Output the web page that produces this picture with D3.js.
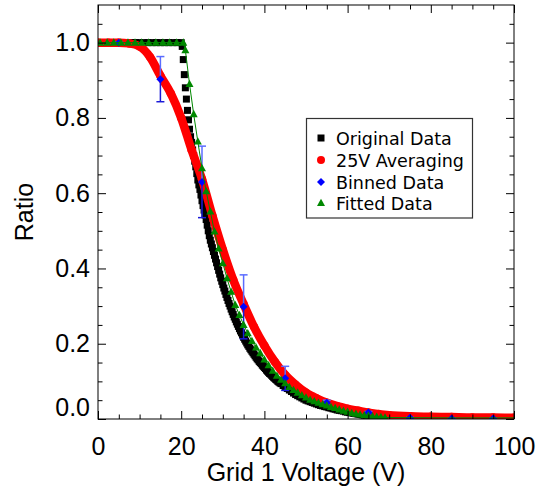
<!DOCTYPE html>
<html><head><meta charset="utf-8">
<script src="https://cdn.jsdelivr.net/npm/d3@7"></script>
<style>body{margin:0;background:#fff} svg{display:block}</style>
</head><body><svg id="c" width="538" height="491"></svg>
<script>
// ---- data ----
const xTicks = [0, 20, 40, 60, 80, 100];
const xMinor = [5, 10, 15, 25, 30, 35, 45, 50, 55, 65, 70, 75, 85, 90, 95];
const yTicks = [0, 0.2, 0.4, 0.6, 0.8, 1.0];
const yMinor = [0.05, 0.1, 0.15, 0.25, 0.3, 0.35, 0.45, 0.5, 0.55, 0.65, 0.7, 0.75, 0.85, 0.9, 0.95, 1.05];

const seriesNames = ["Original Data", "25V Averaging", "Binned Data", "Fitted Data"];

// Original Data (black squares)
const origV = [0,1,2,3,4,5,6,7,8,9,10,11,12,13,14,15,16,17,18,19,20,
  20.25,20.5,20.75,21,21.25,21.5,21.75,22,22.25,22.5,22.75,23,23.25,23.5,23.75,
  24,24.25,24.5,24.75,25,25.25,25.5,25.75,26,26.25,26.5,26.75,27,27.25,27.5,27.75,
  28,28.25,28.5,28.75,29,29.25,29.5,29.75,30,30.25,30.5,30.75,31,31.25,31.5,31.75,
  32,32.25,32.5,32.75,33,33.25,33.5,33.75,34,34.25,34.5,34.75,35,35.25,35.5,35.75,
  36,36.25,36.5,36.75,37,37.25,37.5,37.75,38,38.25,38.5,38.75,39,39.25,39.5,39.75,
  40,40.25,40.5,40.75,41,41.25,41.5,41.75,42,42.25,42.5,42.75,43,43.25,43.5,43.75,
  44,44.5,45,45.5,46,46.5,47,47.5,48,48.5,49,49.5,50,50.5,51,51.5,52,52.5,53,53.5,
  54,54.5,55,55.5,56,56.5,57,57.5,58,58.5,59,59.5,60,60.5,61,61.5,62,62.5,63,63.5,
  64,64.5,65,65.5,66,66.5,67,67.5,68];
const origR = [1,1,1,1,1,1,1,1,1,1,1,1,1,1,1,1,1,1,1,1,1,
  0.99,0.955,0.915,0.88,0.85,0.82,0.795,0.77,0.75,0.735,0.715,0.70,0.685,0.67,0.652,
  0.635,0.622,0.61,0.595,0.58,0.567,0.555,0.542,0.53,0.515,0.50,0.487,0.475,0.465,0.455,0.445,
  0.435,0.425,0.415,0.405,0.395,0.385,0.375,0.366,0.357,0.348,0.34,0.331,0.323,0.315,0.307,0.30,
  0.292,0.285,0.278,0.271,0.265,0.258,0.252,0.246,0.24,0.234,0.229,0.223,0.217,0.212,0.207,0.202,
  0.197,0.193,0.188,0.184,0.18,0.176,0.172,0.168,0.164,0.16,0.157,0.153,0.15,0.147,0.143,0.14,
  0.137,0.134,0.13,0.127,0.124,0.121,0.119,0.116,0.113,0.11,0.108,0.105,0.103,0.10,0.098,0.096,
  0.094,0.089,0.085,0.081,0.077,0.073,0.069,0.065,0.062,0.059,0.056,0.053,0.05,0.048,0.046,0.044,0.042,0.040,0.038,0.036,
  0.035,0.033,0.032,0.030,0.029,0.027,0.026,0.024,0.023,0.022,0.021,0.019,0.018,0.017,0.016,0.015,0.014,0.013,0.012,0.011,
  0.010,0.009,0.008,0.0075,0.007,0.006,0.005,0.0045,0.004];

// 25V Averaging (red)
const avgV = [0,2.5,5,7.5,10,12.5,15,17.5,20,22.5,25,27.5,30,32.5,35,37.5,40,42.5,45,47.5,50,52.5,55,57.5,60,62.5,65,67.5,70,75,80,85,90,95,100];
const avgR = [1.0,1.0,1.0,0.998,0.99,0.962,0.912,0.865,0.8,0.715,0.637,0.54,0.45,0.37,0.305,0.245,0.195,0.152,0.117,0.091,0.07,0.055,0.043,0.034,0.027,0.022,0.017,0.013,0.01,0.007,0.006,0.005,0.004,0.004,0.003];

// Binned Data (blue diamonds with error bars)
const binV = [5,15,25,35,45,55,65,75,85,95];
const binR = [1.0,0.903,0.63,0.298,0.108,0.043,0.017,0.003,0.001,0.001];
const binErr = [0.002,0.06,0.095,0.085,0.032,0.007,0.003,0.001,0.001,0.001];

// Fitted Data (green triangles)
const fitV = [0.5,2.2,3.8,5.5,7.2,8.9,10.5,12.2,13.9,15.6,17.2,18.9,20.5,
  21,22,23,24,25,26,27,28,29,30,31,32,33,34,35,36,37,38,39,40,41,42,43,44,45,46,47,48,49,50,
  51,52,53,54,55,56,57,58,59,60,61,62,63,64,65,66,67,68,69];
const fitR = [1,1,1,1,1,1,1,1,1,1,1,1,1,
  0.98,0.89,0.81,0.737,0.666,0.605,0.551,0.498,0.453,0.414,0.374,0.338,0.303,0.276,0.25,0.228,0.207,0.19,0.175,0.158,0.143,0.128,0.115,0.104,0.095,0.085,0.077,0.07,0.063,0.057,
  0.051,0.047,0.043,0.039,0.036,0.032,0.029,0.025,0.022,0.019,0.016,0.014,0.012,0.010,0.009,0.007,0.006,0.005,0.004];
const fitTailV = [69, 75, 85, 95, 100];
const fitTailR = [0.004, 0.0035, 0.003, 0.003, 0.003];

// ---- chart ----
const svg = d3.select("#c");
const L = 98, R = 514, T = 5, B = 419;
const x = d3.scaleLinear().domain([0, 100]).range([L, R]);
const y = d3.scaleLinear().domain([0, 1.1]).range([B, T]);
const FONT = "'Liberation Sans', Arial, Helvetica, sans-serif";

svg.append("defs").append("clipPath").attr("id", "plotclip")
  .append("rect").attr("x", L).attr("y", T).attr("width", R - L).attr("height", B - T);

const plot = svg.append("g").attr("clip-path", "url(#plotclip)");

// Original Data
plot.append("g").selectAll("rect").data(origV).join("rect")
  .attr("x", (d, i) => x(d) - 3.5).attr("y", (d, i) => y(origR[i]) - 3.5)
  .attr("width", 7).attr("height", 7).attr("fill", "#000");

// 25V Averaging
const avgPts = avgV.map((v, i) => [v, avgR[i]]);
plot.append("path").datum(avgPts)
  .attr("d", d3.line().x(d => x(d[0])).y(d => y(d[1])).curve(d3.curveMonotoneX))
  .attr("fill", "none").attr("stroke", "#ff0000").attr("stroke-width", 8.5)
  .attr("stroke-linecap", "round").attr("stroke-linejoin", "round");
plot.append("g").selectAll("circle").data(avgPts).join("circle")
  .attr("cx", d => x(d[0])).attr("cy", d => y(d[1])).attr("r", 4.25).attr("fill", "#ff0000");

// Binned Data error bars
const eb = plot.append("g");
binV.forEach((v, i) => {
  const cx = x(v), yt = y(binR[i] + binErr[i]), yb = y(binR[i] - binErr[i]), yc = y(binR[i]);
  eb.append("line").attr("x1", cx).attr("x2", cx).attr("y1", yt).attr("y2", yc).attr("stroke", "#5a6cff").attr("stroke-width", 1.5);
  eb.append("line").attr("x1", cx).attr("x2", cx).attr("y1", yc).attr("y2", yb).attr("stroke", "#1a1ad8").attr("stroke-width", 1.5);
  eb.append("line").attr("x1", cx - 4).attr("x2", cx + 4).attr("y1", yt).attr("y2", yt).attr("stroke", "#5a6cff").attr("stroke-width", 1.5);
  eb.append("line").attr("x1", cx - 4).attr("x2", cx + 4).attr("y1", yb).attr("y2", yb).attr("stroke", "#1a1ad8").attr("stroke-width", 1.5);
});
plot.append("g").selectAll("path").data(binV).join("path")
  .attr("transform", (d, i) => `translate(${x(d)},${y(binR[i])})`)
  .attr("d", "M0,-4L4,0L0,4L-4,0Z").attr("fill", "#0000ff");

// Fitted Data
const fitPts = fitV.map((v, i) => [v, fitR[i]]);
const tailPts = fitTailV.map((v, i) => [v, fitTailR[i]]);
const gl = d3.line().x(d => x(d[0])).y(d => y(d[1]));
plot.append("path").datum(fitPts.concat(tailPts.slice(1))).attr("d", gl)
  .attr("fill", "none").attr("stroke", "#008800").attr("stroke-width", 1);
plot.append("g").selectAll("path").data(fitPts).join("path")
  .attr("transform", d => `translate(${x(d[0])},${y(d[1])})`)
  .attr("d", "M0,-4.3L4,3L-4,3Z").attr("fill", "#008800");

// ---- axes ----
function styleAxis(g) {
  g.select(".domain").remove();
  g.selectAll("line").attr("stroke", "#000").attr("stroke-width", 1);
  g.attr("font-family", FONT).attr("font-size", 25);
  g.selectAll("text").attr("fill", "#000");
}
svg.append("g").attr("transform", `translate(0,${B})`)
  .call(d3.axisBottom(x).tickValues(xTicks).tickSize(-8).tickPadding(18).tickFormat(d3.format("d"))).call(styleAxis);
svg.append("g").attr("transform", `translate(0,${B})`)
  .call(d3.axisBottom(x).tickValues(xMinor).tickSize(-4.5).tickFormat("")).call(styleAxis);
svg.append("g").attr("transform", `translate(0,${T})`)
  .call(d3.axisTop(x).tickValues(xTicks).tickSize(-8).tickFormat("")).call(styleAxis);
svg.append("g").attr("transform", `translate(0,${T})`)
  .call(d3.axisTop(x).tickValues(xMinor).tickSize(-4.5).tickFormat("")).call(styleAxis);
const yl = svg.append("g").attr("transform", `translate(${L},0)`)
  .call(d3.axisLeft(y).tickValues(yTicks).tickSize(-8).tickPadding(8).tickFormat(d3.format(".1f"))).call(styleAxis);
yl.selectAll(".tick").filter(d => d === 0).select("text").attr("y", -12);
svg.append("g").attr("transform", `translate(${L},0)`)
  .call(d3.axisLeft(y).tickValues(yMinor).tickSize(-4.5).tickFormat("")).call(styleAxis);
svg.append("g").attr("transform", `translate(${R},0)`)
  .call(d3.axisRight(y).tickValues(yTicks).tickSize(-8).tickFormat("")).call(styleAxis);
svg.append("g").attr("transform", `translate(${R},0)`)
  .call(d3.axisRight(y).tickValues(yMinor).tickSize(-4.5).tickFormat("")).call(styleAxis);

svg.append("rect").attr("x", L).attr("y", T).attr("width", R - L).attr("height", B - T)
  .attr("fill", "none").attr("stroke", "#000").attr("stroke-width", 1);

// titles
svg.append("text").attr("x", (L + R) / 2).attr("y", 481).attr("text-anchor", "middle")
  .attr("font-family", FONT).attr("font-size", 25).text("Grid 1 Voltage (V)");
svg.append("text").attr("transform", `translate(33,${(T + B) / 2}) rotate(-90)`).attr("text-anchor", "middle")
  .attr("font-family", FONT).attr("font-size", 25).text("Ratio");

// ---- legend ----
const lg = svg.append("g");
lg.append("rect").attr("x", 306.5).attr("y", 118.5).attr("width", 166).attr("height", 99.5)
  .attr("fill", "#fff").attr("stroke", "#333").attr("stroke-width", 1.2);
const legY = [138, 160, 182, 203];
const lx = 321;
lg.append("rect").attr("x", lx - 3.5).attr("y", legY[0] - 3.5).attr("width", 7).attr("height", 7).attr("fill", "#000");
lg.append("circle").attr("cx", lx).attr("cy", legY[1]).attr("r", 4).attr("fill", "#ff0000");
lg.append("path").attr("transform", `translate(${lx},${legY[2]})`).attr("d", "M0,-4L4,0L0,4L-4,0Z").attr("fill", "#0000ff");
lg.append("path").attr("transform", `translate(${lx},${legY[3]})`).attr("d", "M0,-4.3L4,3L-4,3Z").attr("fill", "#008800");
lg.selectAll("text.leg").data(seriesNames).join("text").attr("class", "leg")
  .attr("x", 336).attr("y", (d, i) => legY[i] + 6.5)
  .attr("font-family", "'DejaVu Sans', sans-serif").attr("font-size", 17.5).attr("fill", "#000")
  .text(d => d);
</script></body></html>
